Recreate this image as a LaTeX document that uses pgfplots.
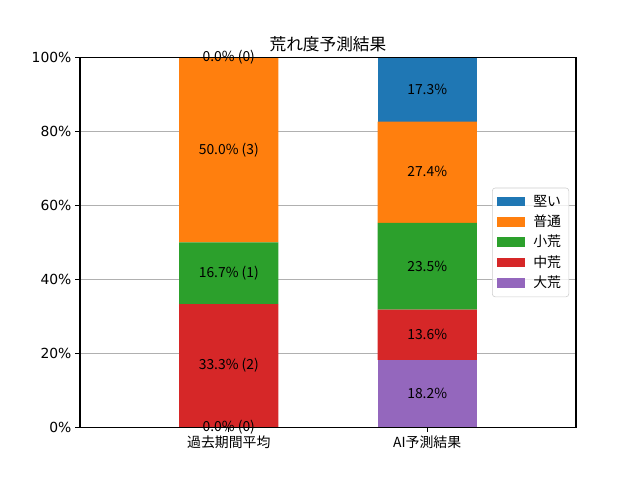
\documentclass[border=0pt]{standalone}
\usepackage{fontspec}
\setmainfont{Noto Sans CJK JP}
\newfontfamily\dejavu{DejaVu Sans}
\usepackage{pgfplots}
\pgfplotsset{compat=1.18}
\definecolor{tabblue}{HTML}{1F77B4}
\definecolor{taborange}{HTML}{FF7F0E}
\definecolor{tabgreen}{HTML}{2CA02C}
\definecolor{tabred}{HTML}{D62728}
\definecolor{tabpurple}{HTML}{9467BD}
\newcommand{\fs}{\fontsize{10}{12}\selectfont}
\begin{document}
\begin{tikzpicture}
\pgfplotsset{set layers}
\begin{axis}[
  at={(0,0)}, anchor=south west, scale only axis,
  width=357.12pt, height=266.112pt,
  xmin=-0.75, xmax=1.75, ymin=0, ymax=100,
  ybar stacked, bar width=0.5,
  xtick={0,1}, xticklabels={過去期間平均,AI予測結果},
  ytick={0,20,40,60,80,100},
  yticklabels={0\%,20\%,40\%,60\%,80\%,100\%},
  xticklabel style={font=\fs, inner sep=1pt, yshift=-1.5pt},
  yticklabel style={font=\dejavu\fs, inner sep=1pt, xshift=-1.5pt},
  ymajorgrids,
  major grid style={line width=0.8pt, color=black!31, /pgfplots/on layer=axis background},
  axis on top,
  tick align=outside, major tick length=3.5pt,
  tick style={black, line width=0.8pt},
  tick pos=left,
  axis line style={line width=0.8pt},
  title={荒れ度予測結果},
  title style={font=\fontsize{12}{14}\selectfont, at={(0.5,1)}, anchor=base, yshift=-1pt, inner sep=0pt},
  reverse legend,
  legend image code/.code={\fill[#1, sharp corners, fill opacity=1] (0pt,-3.5pt) rectangle (20pt,3.5pt);},
  legend cell align=left,
  legend style={at={(axis description cs:1,0.5)}, anchor=east, xshift=-5pt,
    font=\fs, draw=black!20, rounded corners=2pt, fill=white, fill opacity=0.8, text opacity=1,
    inner xsep=3.5pt, inner ysep=3pt, row sep=0.8pt, column sep=4pt,
    nodes={inner sep=2pt}},
]
\addplot[fill=tabpurple, draw=none] coordinates {(0,0) (1,18.2)};
\addlegendentry{大荒}
\addplot[fill=tabred, draw=none] coordinates {(0,33.3) (1,13.6)};
\addlegendentry{中荒}
\addplot[fill=tabgreen, draw=none] coordinates {(0,16.7) (1,23.5)};
\addlegendentry{小荒}
\addplot[fill=taborange, draw=none] coordinates {(0,50.0) (1,27.4)};
\addlegendentry{普通}
\addplot[fill=tabblue, draw=none] coordinates {(0,0) (1,17.3)};
\addlegendentry{堅い}
\end{axis}
\begin{axis}[
  at={(0,0)}, anchor=south west, scale only axis,
  width=357.12pt, height=266.112pt,
  xmin=-0.75, xmax=1.75, ymin=0, ymax=100,
  hide axis, clip=false,
]
\addplot[only marks, mark=none, nodes near coords, point meta=explicit symbolic,
  nodes near coords style={anchor=center, font=\fs, text=black}]
  table[col sep=comma, row sep=\\, meta=label] {
x,y,label\\
0,0,0.0\% (0)\\
0,16.65,33.3\% (2)\\
0,41.65,16.7\% (1)\\
0,75,50.0\% (3)\\
0,100,0.0\% (0)\\
1,9.1,18.2\%\\
1,25.0,13.6\%\\
1,43.55,23.5\%\\
1,69.15,27.4\%\\
1,91.35,17.3\%\\
};
\end{axis}
\path[use as bounding box] (-57.6pt,-38.016pt) rectangle (403.2pt,307.584pt);
\end{tikzpicture}
\end{document}
